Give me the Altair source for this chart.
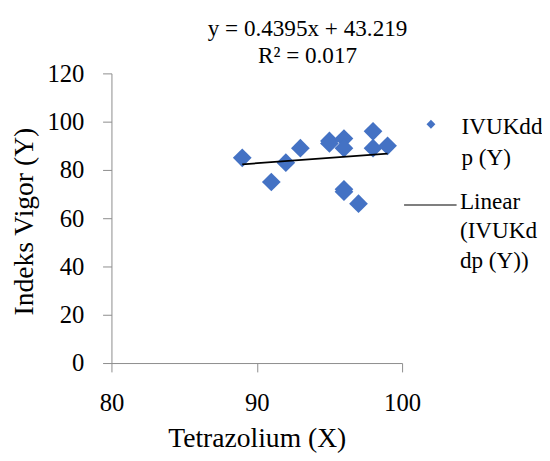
import altair as alt
import pandas as pd

# ---- data ----
tetrazolium = [89, 91, 92, 93, 95, 95, 96, 96, 96, 96, 97, 98, 98, 99]
vigor = [85, 75, 83, 89, 92, 91, 93, 89, 72, 71, 66, 96, 89, 90]
slope = 0.4395
intercept = 43.219
r_squared = 0.017
x_ticks = [80, 90, 100]
y_ticks = [0, 20, 40, 60, 80, 100, 120]
equation_lines = ["y = 0.4395x + 43.219", "R\u00b2 = 0.017"]
legend_points_label = ["IVUKdd", "p (Y)"]
legend_line_label = ["Linear", "(IVUKd", "dp (Y))"]

pts = pd.DataFrame({"x": tetrazolium, "y": vigor})
trend_x = [min(tetrazolium), max(tetrazolium)]
trend = pd.DataFrame({"x": trend_x, "y": [slope * v + intercept for v in trend_x]})
one = pd.DataFrame({"a": [0]})

FONT = "Liberation Serif"
AXIS_COLOR = "#8c8c8c"
BLUE = "#4472C4"

xscale = alt.Scale(domain=[80, 100], nice=False, zero=False)
yscale = alt.Scale(domain=[0, 120], nice=False)

xaxis = alt.Axis(
    values=x_ticks, title="Tetrazolium (X)", grid=False, tickSize=9,
    labelFlush=False, labelFont=FONT, labelFontSize=25, labelColor="black",
    labelBaseline="alphabetic", labelPadding=39,
    titleFont=FONT, titleFontSize=28, titleFontWeight="normal", titleColor="black",
    titleBaseline="alphabetic", titleY=85,
    domainColor=AXIS_COLOR, tickColor=AXIS_COLOR,
)
yaxis = alt.Axis(
    values=y_ticks, title="Indeks Vigor (Y)", grid=False, tickSize=9,
    labelFont=FONT, labelFontSize=25, labelColor="black", labelPadding=19,
    labelBaseline="middle",
    titleFont=FONT, titleFontSize=28, titleFontWeight="normal", titleColor="black",
    titleAngle=270, titleBaseline="alphabetic", titleAlign="center",
    titleX=-80, titleY=150,
    domainColor=AXIS_COLOR, tickColor=AXIS_COLOR,
)

points = alt.Chart(pts).mark_point(
    shape="diamond", filled=True, size=361, color=BLUE, opacity=1
).encode(
    x=alt.X("x:Q", scale=xscale, axis=xaxis),
    y=alt.Y("y:Q", scale=yscale, axis=yaxis),
)

line = alt.Chart(trend).mark_line(color="black", strokeWidth=1.8).encode(
    x=alt.X("x:Q", scale=xscale),
    y=alt.Y("y:Q", scale=yscale),
)

equation = alt.Chart(one).mark_text(
    font=FONT, fontSize=23.5, align="center", baseline="alphabetic",
    lineHeight=27.7, color="black",
).encode(x=alt.value(199), y=alt.value(-38.4), text=alt.value(equation_lines))

leg_sym = alt.Chart(one).mark_point(
    shape="diamond", filled=True, size=81, color=BLUE, opacity=1
).encode(x=alt.value(324.3), y=alt.value(51.6))

leg_txt1 = alt.Chart(one).mark_text(
    font=FONT, fontSize=23.5, align="left", baseline="alphabetic",
    lineHeight=31, color="black",
).encode(x=alt.value(355.3), y=alt.value(61.6), text=alt.value(legend_points_label))

leg_rule = alt.Chart(one).mark_rule(color="black", strokeWidth=1.2).encode(
    x=alt.value(297), x2=alt.value(350.3), y=alt.value(133.6)
)

leg_txt2 = alt.Chart(one).mark_text(
    font=FONT, fontSize=23.5, align="left", baseline="alphabetic",
    lineHeight=30, color="black",
).encode(x=alt.value(353.7), y=alt.value(137.6), text=alt.value(legend_line_label))

chart = alt.layer(
    points, line, equation, leg_sym, leg_txt1, leg_rule, leg_txt2
).properties(
    width=295, height=294,
    autosize=alt.AutoSizeParams(type="none"),
    padding={"left": 105, "top": 63, "right": 142, "bottom": 92},
    background="white",
).configure_view(stroke=None)

chart.save("out.html", embed_options={"renderer": "svg", "actions": False})
